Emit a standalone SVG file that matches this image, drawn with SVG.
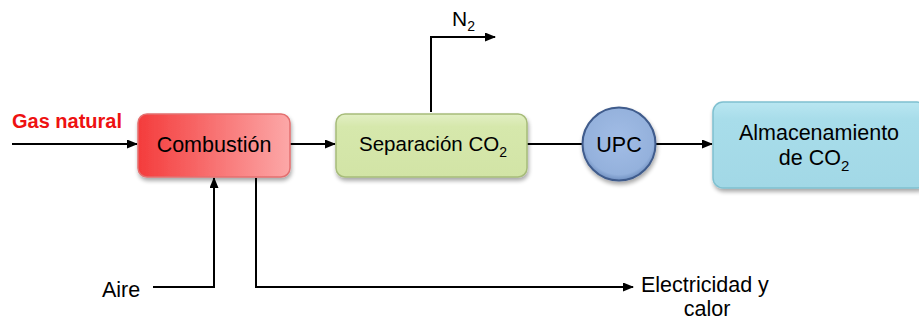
<svg xmlns="http://www.w3.org/2000/svg" width="919" height="322" viewBox="0 0 919 322">
<defs>
<linearGradient id="gRed" x1="0" y1="0" x2="1" y2="0">
<stop offset="0" stop-color="#f43c3c"/><stop offset="1" stop-color="#fca8a8"/>
</linearGradient>
<linearGradient id="gGreen" x1="0" y1="0" x2="0" y2="1">
<stop offset="0" stop-color="#e2efc4"/><stop offset="0.2" stop-color="#d6e8ac"/><stop offset="1" stop-color="#d2e4a6"/>
</linearGradient>
<linearGradient id="gBlue" x1="0" y1="0" x2="0" y2="1">
<stop offset="0" stop-color="#b9e6f1"/><stop offset="0.2" stop-color="#a8ddea"/><stop offset="1" stop-color="#a2d8e6"/>
</linearGradient>
<radialGradient id="gCirc" cx="0.5" cy="0.45" r="0.55">
<stop offset="0" stop-color="#a2bde6"/><stop offset="0.85" stop-color="#94b1dc"/><stop offset="1" stop-color="#6f8fc0"/>
</radialGradient>
<filter id="sh" x="-10%" y="-10%" width="125%" height="135%">
<feGaussianBlur in="SourceAlpha" stdDeviation="2"/>
<feOffset dx="1" dy="3" result="b"/>
<feComponentTransfer><feFuncA type="linear" slope="0.35"/></feComponentTransfer>
<feMerge><feMergeNode/><feMergeNode in="SourceGraphic"/></feMerge>
</filter>
<marker id="ah" markerWidth="11" markerHeight="9" refX="10" refY="4.5" orient="auto" markerUnits="userSpaceOnUse">
<path d="M0,0 L11,4.5 L0,9 Z" fill="#000"/>
</marker>
</defs>
<style>
text{font-family:"Liberation Sans",Arial,sans-serif;fill:#000;}
.lbl{font-size:21.5px;}
.ln{fill:none;stroke:#000;stroke-width:2;}
.arr{marker-end:url(#ah);}
</style>

<g id="connectors">
<line class="ln arr" x1="12" y1="144" x2="137" y2="144"/>
<line class="ln arr" x1="290" y1="144" x2="335" y2="144"/>
<line class="ln" x1="527" y1="144" x2="583" y2="144"/>
<line class="ln arr" x1="656" y1="144" x2="712" y2="144"/>
<polyline class="ln arr" points="431,112 431,37 495,37"/>
<polyline class="ln arr" points="153,287 214,287 214,178"/>
<polyline class="ln arr" points="256,178 256,287 633,287"/>
</g>

<g id="gas-natural">
<text x="12" y="128" style="font-size:20px;font-weight:bold;fill:#ee1111">Gas natural</text>
</g>

<g id="combustion">
<rect x="138" y="114" width="152" height="63" rx="9" fill="url(#gRed)" stroke="#e36f6f" stroke-width="1.5" filter="url(#sh)"/>
<text x="214" y="152" text-anchor="middle" style="font-size:21.5px">Combustión</text>
</g>

<g id="separacion">
<rect x="336" y="114" width="191" height="63" rx="9" fill="url(#gGreen)" stroke="#a7bc7a" stroke-width="1.5" filter="url(#sh)"/>
<text x="359" y="151" style="font-size:20.5px">Separación CO<tspan dy="6" style="font-size:14px">2</tspan></text>
</g>

<g id="n2">
<text x="452" y="26" style="font-size:21px">N<tspan dy="5" style="font-size:14px">2</tspan></text>
</g>

<g id="upc">
<circle cx="619" cy="144" r="36.5" fill="url(#gCirc)" stroke="#3f5b8c" stroke-width="2" filter="url(#sh)"/>
<text class="lbl" x="619" y="152" text-anchor="middle">UPC</text>
</g>

<g id="almacenamiento">
<rect x="713" y="102" width="214" height="86" rx="10" fill="url(#gBlue)" stroke="#7fc0d0" stroke-width="1.5" filter="url(#sh)"/>
<text class="lbl" x="819" y="140" text-anchor="middle">Almacenamiento</text>
<text class="lbl" x="814" y="165" text-anchor="middle">de CO<tspan dy="6" style="font-size:15px">2</tspan></text>
</g>

<g id="aire">
<text class="lbl" x="102" y="297">Aire</text>
</g>

<g id="electricidad">
<text class="lbl" x="641" y="292">Electricidad y</text>
<text class="lbl" x="707" y="316" text-anchor="middle">calor</text>
</g>
</svg>
